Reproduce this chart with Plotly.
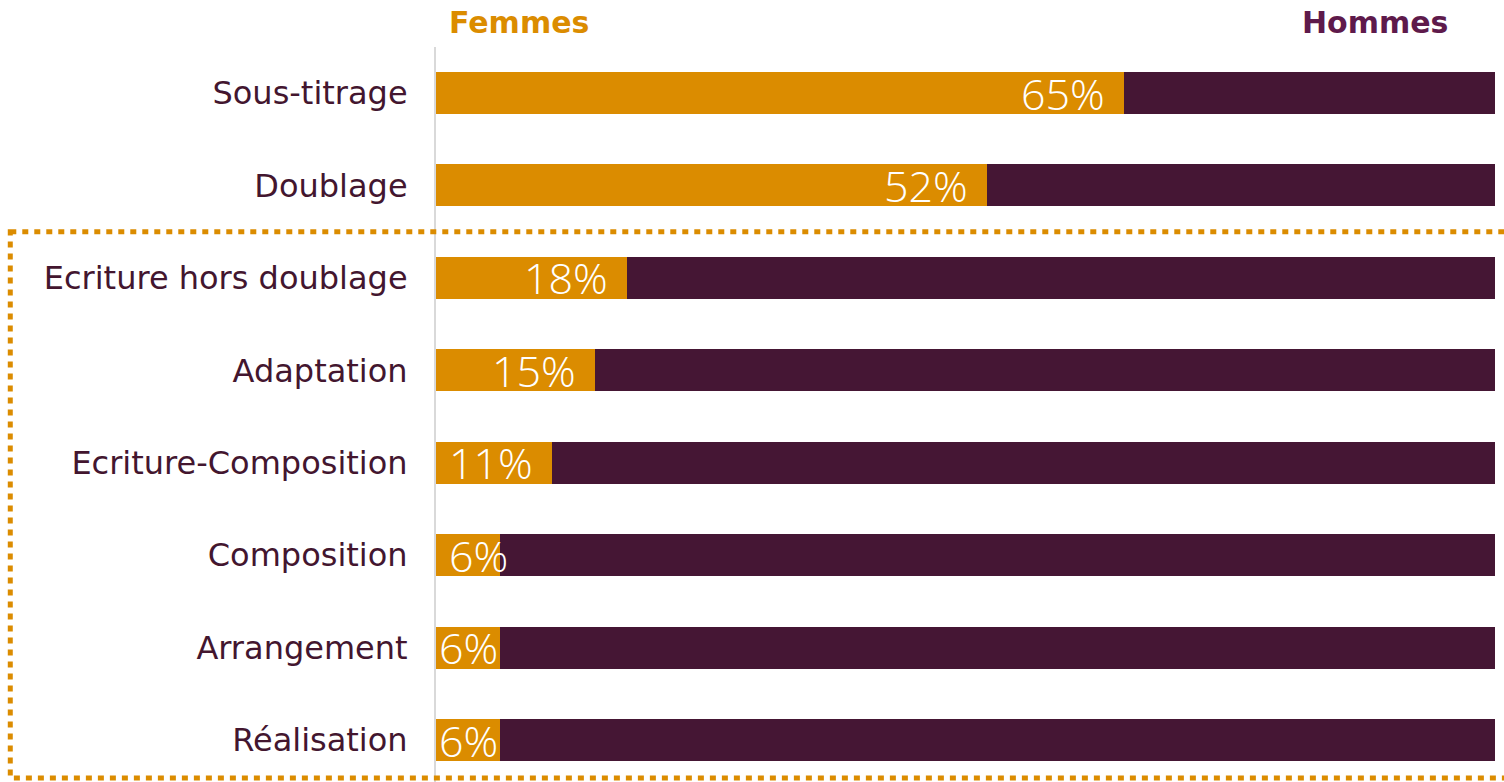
import plotly.graph_objects as go

categories = ["Sous-titrage", "Doublage", "Ecriture hors doublage", "Adaptation",
              "Ecriture-Composition", "Composition", "Arrangement", "Réalisation"]
femmes = [65, 52, 18, 15, 11, 6, 6, 6]
hommes = [100 - v for v in femmes]
labels = [f"{v}%" for v in femmes]

ORANGE = "#DB8C00"
PURPLE = "#451634"
LABEL = "#43162F"
HOMMES_TXT = "#5E1A4B"
FONT = "DejaVu Sans"
PCT_FONT = "Open Sans"

ypos = list(range(len(categories)))

fig = go.Figure()
fig.add_trace(go.Bar(y=ypos, x=femmes, orientation="h", marker=dict(color=ORANGE, line=dict(width=0)),
                     width=0.455, name="Femmes", hoverinfo="skip"))
fig.add_trace(go.Bar(y=ypos, x=hommes, orientation="h", marker=dict(color=PURPLE, line=dict(width=0)),
                     width=0.455, name="Hommes", hoverinfo="skip"))

shifts = [-17, -17, -17, -17, -17, 10, 0, 0]
for i, (v, t) in enumerate(zip(femmes, labels)):
    fig.add_annotation(x=v, y=i, text=t, showarrow=False, xanchor="right", yanchor="middle",
                       xshift=shifts[i], font=dict(family=PCT_FONT, size=43, color="white", weight=300))

fig.add_annotation(xref="paper", yref="paper", x=0.0104, y=1.0, yshift=25, text="<b>Femmes</b>",
                   showarrow=False, xanchor="left", yanchor="middle",
                   font=dict(family=FONT, size=30, color=ORANGE))
fig.add_annotation(xref="paper", yref="paper", x=0.9575, y=1.0, yshift=25, text="<b>Hommes</b>",
                   showarrow=False, xanchor="right", yanchor="middle",
                   font=dict(family=FONT, size=30, color=HOMMES_TXT))

fig.add_shape(type="rect", xref="paper", yref="y", x0=-0.402, x1=1.05, y0=1.5, y1=7.41,
              line=dict(color=ORANGE, width=5, dash="6px,6px"), fillcolor="rgba(0,0,0,0)", layer="above")

fig.update_layout(
    barmode="stack", showlegend=False, width=1504, height=782,
    margin=dict(l=436, r=9, t=47, b=0), plot_bgcolor="white", paper_bgcolor="white",
    xaxis=dict(range=[0, 100], visible=False, fixedrange=True),
    yaxis=dict(range=[7.454, -0.498], tickvals=ypos, ticktext=categories, showgrid=False,
               zeroline=False, showline=True, linecolor="#D9D9D9", linewidth=2,
               ticks="", ticklabelstandoff=20, fixedrange=True,
               tickfont=dict(family=FONT, size=32, color=LABEL)),
)
fig.write_html("out.html", config={"displayModeBar": False},
               post_script="document.body.style.margin='0';document.body.style.overflow='hidden';")
